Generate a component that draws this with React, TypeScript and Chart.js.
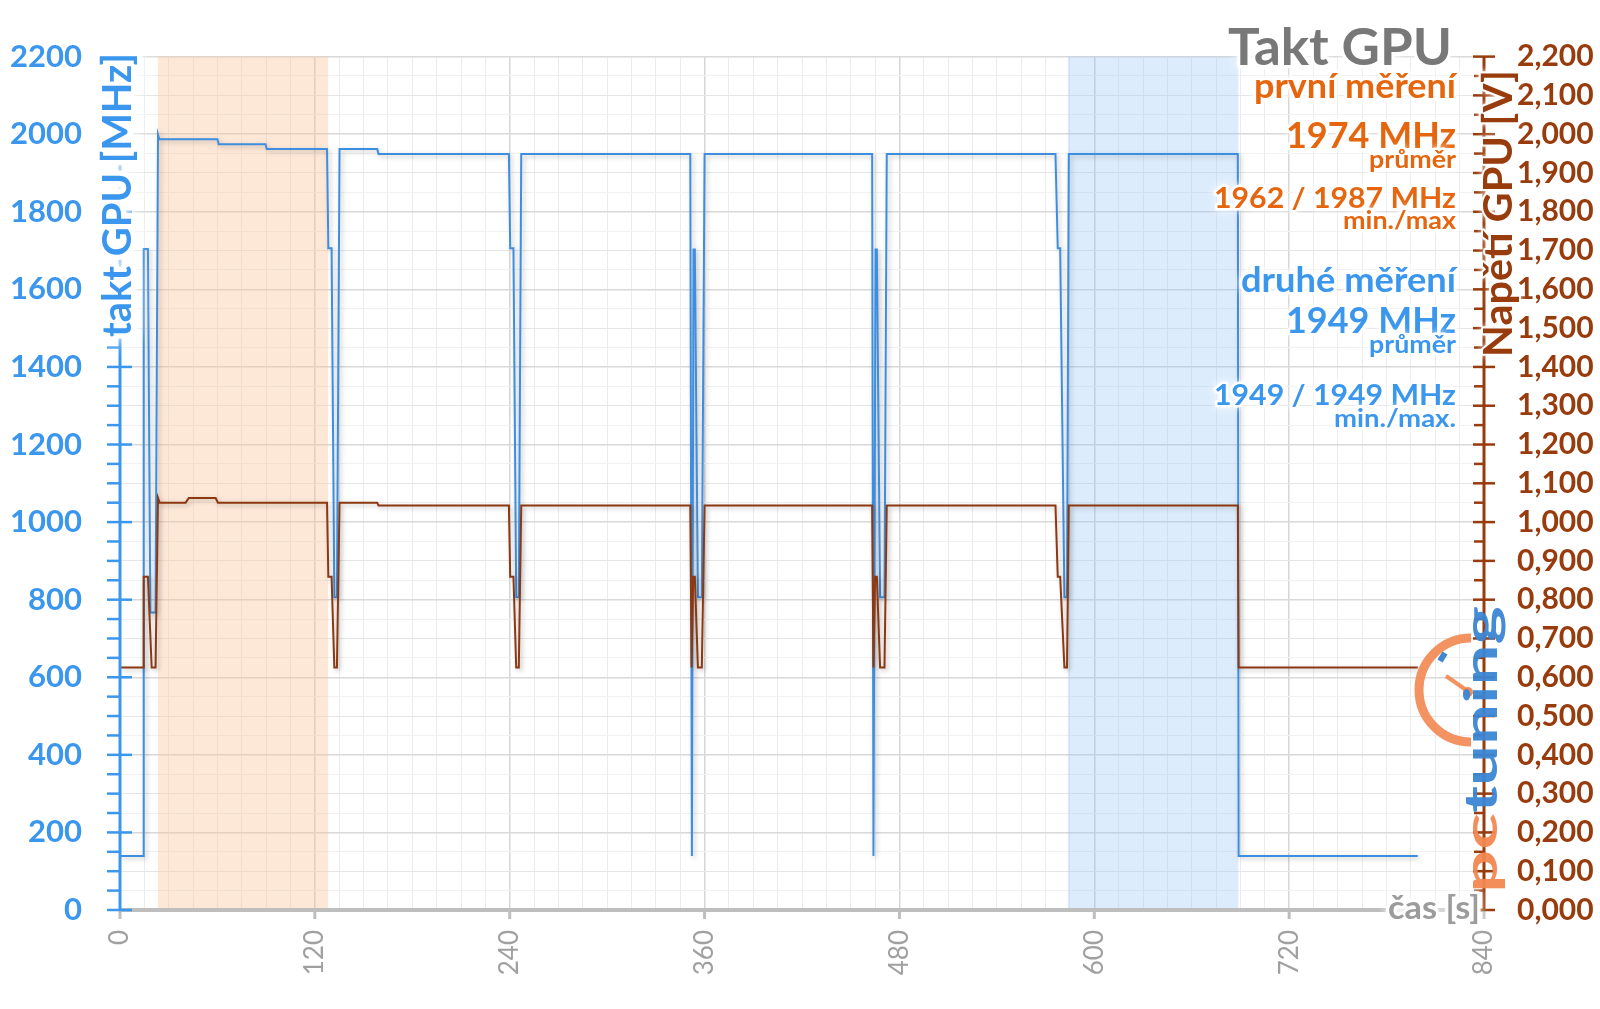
import React, { useEffect, useRef } from 'react';
import { Chart, registerables } from 'chart.js';

Chart.register(...registerables);

// ---------------- data ----------------
const clockTime = [0, 14.2, 14.6, 17.2, 18.7, 21.9, 23.4, 24.2, 60.0, 60.8, 89.6, 90.4, 127.5, 128.3, 130.3, 132.0, 133.6, 135.2, 158.4, 159.2, 239.5, 240.3, 242.3, 244.0, 245.6, 247.1, 351.2, 352.2, 353.2, 354.0, 355.9, 358.3, 360.0, 463.2, 464.0, 465.3, 466.1, 468.1, 470.8, 472.2, 576.1, 577.5, 579.0, 581.6, 583.2, 584.3, 688.4, 688.9, 799.2];
const clockMHz = [139, 139, 1704, 1704, 767, 767, 1999, 1987, 1987, 1974, 1974, 1962, 1962, 1706, 1706, 806, 806, 1962, 1962, 1949, 1949, 1706, 1706, 806, 806, 1949, 1949, 139, 1703, 1703, 806, 806, 1949, 1949, 139, 1703, 1703, 806, 806, 1949, 1949, 1706, 1706, 806, 806, 1949, 1949, 139, 139];

const voltTime = [0, 14.2, 14.6, 17.2, 19.5, 21.9, 23.4, 24.4, 40.4, 42.4, 58.9, 60.3, 127.5, 128.3, 130.3, 132.0, 133.6, 135.2, 158.4, 159.2, 239.5, 240.3, 242.3, 244.0, 245.6, 247.1, 351.2, 352.0, 353.0, 354.0, 355.9, 358.3, 360.0, 463.2, 464.0, 465.0, 466.1, 468.1, 470.8, 472.2, 576.1, 577.5, 579.0, 581.6, 583.2, 584.3, 688.4, 688.9, 799.2];
const voltV = [0.625, 0.625, 0.859, 0.859, 0.625, 0.625, 1.062, 1.05, 1.05, 1.062, 1.062, 1.05, 1.05, 0.859, 0.859, 0.625, 0.625, 1.05, 1.05, 1.043, 1.043, 0.859, 0.859, 0.625, 0.625, 1.043, 1.043, 0.625, 0.859, 0.859, 0.625, 0.625, 1.043, 1.043, 0.625, 0.859, 0.859, 0.625, 0.625, 1.043, 1.043, 0.859, 0.859, 0.625, 0.625, 1.043, 1.043, 0.625, 0.625];

const firstBand = [23.3, 128.2];
const secondBand = [583.7, 688.7];

const chartTitle = 'Takt GPU';
const firstRunLines = ['první měření', '1974 MHz', 'průměr', '1962 / 1987 MHz', 'min./max'];
const secondRunLines = ['druhé měření', '1949 MHz', 'průměr', '1949 / 1949 MHz', 'min./max.'];
const leftAxisTitle = 'takt GPU [MHz]';
const rightAxisTitle = 'Napětí GPU [V]';
const xAxisTitle = 'čas [s]';
const logoParts = ['pc', 'tuning'];

// ---------------- styles ----------------
const FONT = 'Lato, "Open Sans", "DejaVu Sans", sans-serif';
const BLUE = '#3B97EE';
const BLUE_LINE = '#3E8EE0';
const ORANGE = '#E5660F';
const BROWN = '#983B0D';
const BROWN_LINE = '#8C3810';
const GRAY_TEXT = '#9C9C9C';

type TextOpts = {
  size: number;
  color: string;
  weight?: string;
  width?: number;
  align?: CanvasTextAlign;
  rotate?: number;
  glow?: number;
};

function drawText(ctx: CanvasRenderingContext2D, text: string, x: number, y: number, o: TextOpts) {
  ctx.save();
  ctx.font = `${o.weight ?? 'bold'} ${o.size}px ${FONT}`;
  ctx.translate(x, y);
  if (o.rotate) ctx.rotate(o.rotate);
  if (o.width) {
    const w = ctx.measureText(text).width;
    ctx.scale(o.width / w, 1);
  }
  ctx.textAlign = o.align ?? 'left';
  ctx.textBaseline = 'alphabetic';
  if (o.glow) {
    ctx.lineJoin = 'round';
    ctx.strokeStyle = 'rgba(255,255,255,0.95)';
    ctx.lineWidth = o.glow;
    ctx.shadowColor = '#ffffff';
    ctx.shadowBlur = o.glow * 1.5;
    ctx.strokeText(text, 0, 0);
    ctx.shadowBlur = 0;
  }
  ctx.fillStyle = o.color;
  ctx.fillText(text, 0, 0);
  ctx.restore();
}

const decorPlugin = {
  id: 'decor',
  beforeDatasetsDraw(chart: any) {
    const { ctx, chartArea: a, scales } = chart;
    const x = scales.x;
    const band = (r: number[], color: string) => {
      const x0 = x.getPixelForValue(r[0]);
      const x1 = x.getPixelForValue(r[1]);
      ctx.save();
      ctx.fillStyle = color;
      ctx.fillRect(x0, a.top, x1 - x0, a.bottom - a.top);
      ctx.restore();
    };
    band(firstBand, 'rgba(250,198,158,0.40)');
    band(secondBand, 'rgba(150,195,245,0.32)');
  },
  beforeDatasetDraw(chart: any) {
    const ctx = chart.ctx;
    ctx.save();
    ctx.shadowColor = 'rgba(0,0,0,0.25)';
    ctx.shadowBlur = 5;
    ctx.shadowOffsetX = 2;
    ctx.shadowOffsetY = 2;
  },
  afterDatasetDraw(chart: any) {
    chart.ctx.restore();
  },
  afterDraw(chart: any) {
    const { ctx, chartArea: a, scales } = chart;
    const x = scales.x;
    const y = scales.y;
    const y1 = scales.y1;

    // x axis
    ctx.save();
    ctx.strokeStyle = '#BEBEBE';
    ctx.lineWidth = 4;
    ctx.beginPath();
    ctx.moveTo(a.left, a.bottom);
    ctx.lineTo(a.right, a.bottom);
    ctx.stroke();
    ctx.lineWidth = 3;
    for (let v = 0; v <= 840; v += 120) {
      const px = x.getPixelForValue(v);
      ctx.beginPath();
      ctx.moveTo(px, a.bottom);
      ctx.lineTo(px, a.bottom + 9);
      ctx.stroke();
    }
    ctx.restore();

    // left axis
    ctx.save();
    ctx.strokeStyle = BLUE;
    ctx.lineWidth = 3;
    ctx.beginPath();
    ctx.moveTo(a.left, a.top);
    ctx.lineTo(a.left, a.bottom);
    ctx.stroke();
    ctx.lineWidth = 2.5;
    for (let v = 0; v <= 2200; v += 50) {
      const py = y.getPixelForValue(v);
      ctx.beginPath();
      if (v % 200 === 0) {
        ctx.moveTo(a.left - 13, py);
        ctx.lineTo(a.left + 12, py);
      } else {
        ctx.moveTo(a.left - 13, py);
        ctx.lineTo(a.left, py);
      }
      ctx.stroke();
    }
    ctx.restore();

    // right axis
    ctx.save();
    ctx.strokeStyle = BROWN;
    ctx.lineWidth = 3;
    ctx.beginPath();
    ctx.moveTo(a.right, a.top);
    ctx.lineTo(a.right, a.bottom);
    ctx.stroke();
    ctx.lineWidth = 2.5;
    for (let i = 0; i <= 44; i++) {
      const py = y1.getPixelForValue(i * 0.05);
      ctx.beginPath();
      if (i % 2 === 0) {
        ctx.moveTo(a.right - 11, py);
        ctx.lineTo(a.right + 11, py);
      } else {
        ctx.moveTo(a.right - 10, py);
        ctx.lineTo(a.right, py);
      }
      ctx.stroke();
    }
    ctx.restore();

    // axis titles
    drawText(ctx, leftAxisTitle, 131, 337, { size: 41, width: 284, rotate: -Math.PI / 2, color: BLUE, glow: 11 });
    drawText(ctx, rightAxisTitle, 1512, 357, { size: 40, width: 287, rotate: -Math.PI / 2, color: BROWN, glow: 4 });
    drawText(ctx, xAxisTitle, 1388, 919, { size: 32, width: 92, color: GRAY_TEXT, glow: 6 });

    // title & summary block
    const rx = 1456;
    drawText(ctx, chartTitle, 1452, 65, { size: 52, width: 224, align: 'right', color: '#787878', glow: 6 });
    const base1 = [98, 148, 168, 208, 229];
    const base2 = [292, 333, 353, 405, 427];
    const sizes = [34, 36, 25, 29, 25];
    const widths1 = [202, 170, 87, 242, 113];
    const widths2 = [215, 170, 87, 242, 122];
    firstRunLines.forEach((t, i) =>
      drawText(ctx, t, rx, base1[i], { size: sizes[i], width: widths1[i], align: 'right', color: ORANGE, glow: 5 })
    );
    secondRunLines.forEach((t, i) =>
      drawText(ctx, t, rx, base2[i], { size: sizes[i], width: widths2[i], align: 'right', color: BLUE, glow: 5 })
    );

    // logo
    const cx = 1471;
    const cy = 690;
    ctx.save();
    ctx.strokeStyle = 'rgba(242,135,80,0.9)';
    ctx.lineWidth = 9;
    ctx.beginPath();
    ctx.arc(cx, cy, 52, -Math.PI / 2, Math.PI / 2, true);
    ctx.stroke();
    ctx.lineWidth = 4;
    ctx.beginPath();
    ctx.moveTo(cx - 2, cy + 2);
    ctx.lineTo(cx - 25, cy - 14);
    ctx.stroke();
    ctx.fillStyle = 'rgba(242,135,80,0.95)';
    ctx.beginPath();
    ctx.arc(cx - 3, cy + 2, 5, 0, Math.PI * 2);
    ctx.fill();
    ctx.strokeStyle = '#3F88D0';
    ctx.lineWidth = 6;
    ctx.beginPath();
    ctx.moveTo(cx - 31, cy - 29);
    ctx.lineTo(cx - 26, cy - 37);
    ctx.stroke();
    ctx.restore();
    drawText(ctx, logoParts[0], 1497, 893, { size: 46, width: 80, rotate: -Math.PI / 2, color: 'rgba(242,135,80,0.95)' });
    drawText(ctx, logoParts[1], 1497, 813, { size: 46, width: 207, rotate: -Math.PI / 2, color: 'rgba(58,134,212,0.95)' });
  },
};

export default function App() {
  const canvasRef = useRef<HTMLCanvasElement | null>(null);

  useEffect(() => {
    const canvas = canvasRef.current;
    if (!canvas) return;
    Chart.defaults.font.family = FONT;
    const clockPts = clockTime.map((t, i) => ({ x: t, y: clockMHz[i] }));
    const voltPts = voltTime.map((t, i) => ({ x: t, y: voltV[i] }));

    const chart = new Chart(canvas, {
      type: 'line',
      data: {
        datasets: [
          {
            label: 'takt GPU',
            data: clockPts,
            yAxisID: 'y',
            borderColor: BLUE_LINE,
            borderWidth: 2,
            pointRadius: 0,
            tension: 0,
            fill: false,
            order: 1,
          },
          {
            label: 'napětí GPU',
            data: voltPts,
            yAxisID: 'y1',
            borderColor: BROWN_LINE,
            borderWidth: 2,
            pointRadius: 0,
            tension: 0,
            fill: false,
            order: 0,
          },
        ],
      },
      options: {
        responsive: false,
        animation: false,
        devicePixelRatio: 1,
        layout: { padding: { top: 53, left: 0, right: 0, bottom: 0 } },
        plugins: { legend: { display: false }, tooltip: { enabled: false } },
        scales: {
          x: {
            type: 'linear',
            min: 0,
            max: 840,
            afterFit: (s: any) => {
              s.height = 99;
            },
            ticks: {
              stepSize: 15,
              autoSkip: false,
              maxRotation: 90,
              minRotation: 90,
              padding: 20,
              color: '#A0A0A0',
              font: { family: FONT, size: 26, weight: 'normal' },
              callback: (v: any) => (Number(v) % 120 === 0 ? String(v) : ''),
            },
            grid: {
              drawTicks: false,
              color: (c: any) => (c.tick && c.tick.value % 120 === 0 ? '#D6D6D6' : '#ECECEC'),
              lineWidth: (c: any) => (c.tick && c.tick.value % 120 === 0 ? 1.5 : 1),
            },
            border: { display: false },
          },
          y: {
            position: 'left',
            min: 0,
            max: 2200,
            afterFit: (s: any) => {
              s.width = 120;
            },
            ticks: {
              stepSize: 50,
              autoSkip: false,
              padding: 38,
              color: BLUE,
              font: { family: FONT, size: 31, weight: 'bold' },
              callback: (v: any) => (Number(v) % 200 === 0 ? String(v) : ''),
            },
            grid: {
              drawTicks: false,
              color: (c: any) => {
                const v = c.tick ? c.tick.value : 0;
                if (v % 200 === 0) return '#D9D9D9';
                if (v % 100 === 0) return '#E6E6E6';
                return '#F1F1F1';
              },
              lineWidth: (c: any) => (c.tick && c.tick.value % 200 === 0 ? 1.5 : 1),
            },
            border: { display: false },
          },
          y1: {
            position: 'right',
            min: 0,
            max: 2.2,
            afterFit: (s: any) => {
              s.width = 116;
            },
            ticks: {
              stepSize: 0.1,
              autoSkip: false,
              padding: 33,
              color: BROWN,
              font: { family: FONT, size: 30, weight: 'bold' },
              callback: (v: any) => Number(v).toFixed(3).replace('.', ','),
            },
            grid: { display: false, drawOnChartArea: false, drawTicks: false },
            border: { display: false },
          },
        },
      } as any,
      plugins: [decorPlugin],
    });

    return () => {
      chart.destroy();
    };
  }, []);

  return (
    <div style={{ position: 'absolute', left: 0, top: 0, width: 1600, height: 1009, background: '#fff' }}>
      <canvas ref={canvasRef} width={1600} height={1009} style={{ display: 'block', width: 1600, height: 1009 }} />
    </div>
  );
}
